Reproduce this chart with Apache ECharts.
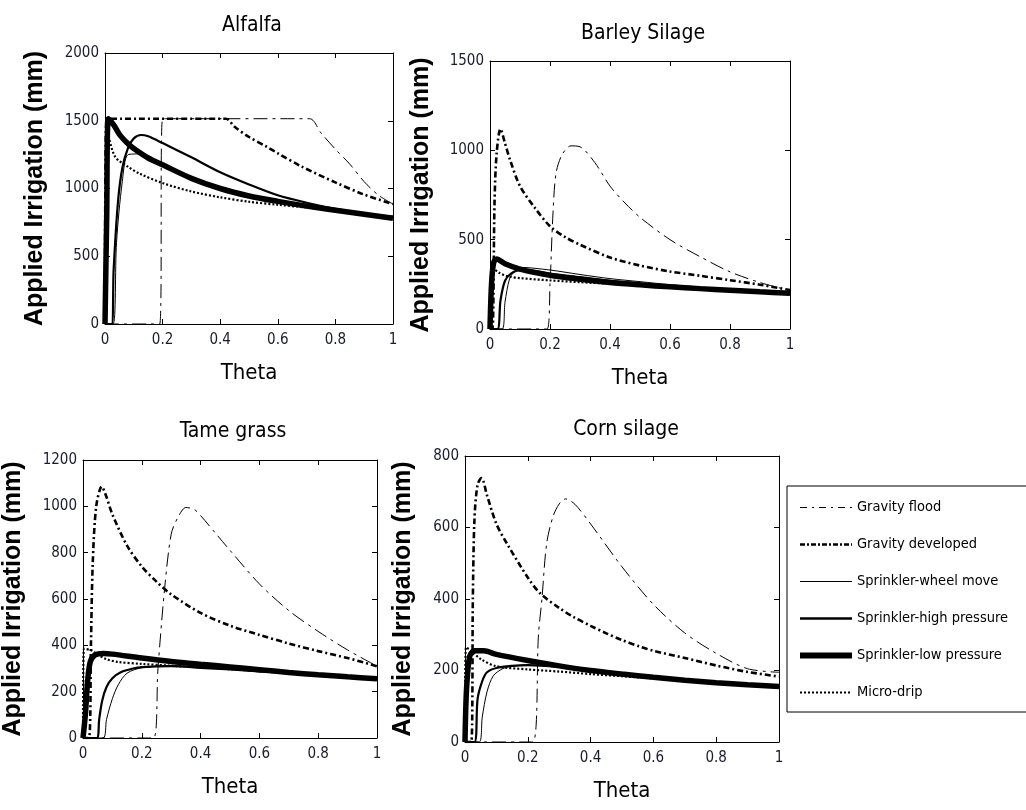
<!DOCTYPE html>
<html>
<head>
<meta charset="utf-8">
<script src="https://cdn.jsdelivr.net/npm/echarts@6/dist/echarts.min.js"></script>
<style>
html,body{margin:0;padding:0;background:#fff;}
#chart{width:1026px;height:810px;}
</style>
</head>
<body>
<div id="chart"></div>
<script>
// ---- data ----
const panelTitles = ['Alfalfa', 'Barley Silage', 'Tame grass', 'Corn silage'];
const seriesNames = ['Gravity flood', 'Gravity developed', 'Sprinkler-wheel move', 'Sprinkler-high pressure', 'Sprinkler-low pressure', 'Micro-drip'];
const xTicks = [0, 0.2, 0.4, 0.6, 0.8, 1];
const yMax = [2000, 1500, 1200, 800];
const yStep = [500, 500, 200, 200];

// Alfalfa
const alfFlood = [[0,0],[0.19,0],[0.2,1515],[0.71,1515],[0.75,1410],[0.8,1290],[0.85,1180],[0.9,1050],[0.95,950],[1,885]];
const alfDev = [[0,0],[0.005,1515],[0.42,1515],[0.45,1455],[0.5,1380],[0.56,1310],[0.6,1260],[0.68,1165],[0.8,1045],[0.9,955],[1,885]];
const alfWheel = [[0,0],[0.028,0],[0.04,600],[0.06,1050],[0.08,1250],[0.12,1255],[0.2,1170],[0.3,1080],[0.4,1005],[0.5,950],[0.6,910],[0.7,875],[0.8,845],[0.9,815],[1,785]];
const alfHigh = [[0,0],[0.023,0],[0.03,400],[0.045,900],[0.06,1150],[0.08,1300],[0.1,1370],[0.125,1395],[0.15,1385],[0.2,1335],[0.3,1230],[0.4,1120],[0.5,1030],[0.6,950],[0.7,895],[0.8,850],[0.9,815],[1,790]];
const alfLow = [[0,0],[0.006,800],[0.012,1515],[0.03,1470],[0.05,1400],[0.08,1330],[0.1,1295],[0.15,1225],[0.2,1175],[0.3,1075],[0.4,1000],[0.5,945],[0.6,905],[0.7,870],[0.8,840],[0.9,810],[1,780]];
const alfDrip = [[0,0],[0.004,700],[0.01,1400],[0.035,1235],[0.08,1160],[0.12,1110],[0.2,1040],[0.3,978],[0.4,935],[0.5,902],[0.6,880],[0.7,860],[0.8,838],[0.9,815],[1,790]];

// Barley Silage
const barFlood = [[0,0],[0.19,0],[0.2,250],[0.21,650],[0.22,870],[0.24,975],[0.27,1025],[0.3,1020],[0.35,930],[0.4,800],[0.45,705],[0.5,625],[0.6,500],[0.7,405],[0.8,320],[0.9,260],[1,215]];
const barDev = [[0,0],[0.008,0],[0.015,700],[0.022,980],[0.035,1120],[0.05,1040],[0.067,946],[0.1,800],[0.15,677],[0.2,575],[0.25,515],[0.3,472],[0.4,400],[0.5,355],[0.6,322],[0.7,298],[0.8,273],[0.9,248],[1,218]];
const barWheel = [[0,0],[0.04,0],[0.05,150],[0.065,280],[0.08,320],[0.1,345],[0.2,330],[0.3,305],[0.4,282],[0.5,265],[0.6,248],[0.7,235],[0.8,222],[0.9,210],[1,200]];
const barHigh = [[0,0],[0.025,0],[0.035,160],[0.05,270],[0.07,310],[0.1,330],[0.15,325],[0.2,310],[0.3,290],[0.4,270],[0.5,255],[0.6,240],[0.7,228],[0.8,218],[0.9,208],[1,198]];
const barLow = [[0,0],[0.005,250],[0.012,370],[0.022,392],[0.05,365],[0.1,335],[0.2,300],[0.3,278],[0.4,260],[0.5,247],[0.6,236],[0.7,226],[0.8,217],[0.9,208],[1,200]];
const barDrip = [[0,0],[0.004,200],[0.01,340],[0.03,315],[0.06,295],[0.1,285],[0.2,272],[0.3,262],[0.4,253],[0.5,245],[0.6,237],[0.7,228],[0.8,220],[0.9,212],[1,205]];

// Tame grass
const tamFlood = [[0,0],[0.24,0],[0.255,300],[0.278,650],[0.3,880],[0.322,950],[0.35,995],[0.38,985],[0.4,960],[0.45,885],[0.5,810],[0.6,665],[0.7,550],[0.8,460],[0.9,380],[1,310]];
const tamDev = [[0,0],[0.02,0],[0.027,400],[0.033,750],[0.045,1000],[0.064,1085],[0.08,1040],[0.1,965],[0.15,830],[0.2,740],[0.25,675],[0.3,620],[0.4,540],[0.5,485],[0.6,445],[0.7,408],[0.8,375],[0.9,345],[1,310]];
const tamWheel = [[0,0],[0.068,0],[0.08,80],[0.1,170],[0.12,230],[0.15,280],[0.2,303],[0.3,312],[0.4,305],[0.5,298],[0.6,290],[0.7,282],[0.8,273],[0.9,265],[1,258]];
const tamHigh = [[0,0],[0.047,0],[0.055,80],[0.065,160],[0.08,220],[0.1,258],[0.13,285],[0.17,300],[0.2,306],[0.3,310],[0.4,303],[0.5,296],[0.6,288],[0.7,280],[0.8,272],[0.9,264],[1,256]];
const tamLow = [[0,0],[0.008,100],[0.016,250],[0.025,330],[0.04,358],[0.07,365],[0.1,362],[0.2,345],[0.3,330],[0.4,318],[0.5,307],[0.6,295],[0.7,283],[0.8,273],[0.9,264],[1,256]];
const tamDrip = [[0,0],[0.003,385],[0.03,378],[0.05,360],[0.08,340],[0.12,328],[0.2,320],[0.3,312],[0.4,305],[0.5,297],[0.6,288],[0.7,280],[0.8,272],[0.9,264],[1,256]];

// Corn silage
const corFlood = [[0,0],[0.216,0],[0.234,300],[0.245,400],[0.26,555],[0.28,630],[0.3,666],[0.32,680],[0.35,665],[0.4,610],[0.5,490],[0.6,385],[0.7,305],[0.8,248],[0.9,205],[1,195]];
const corDev = [[0,0],[0.02,0],[0.025,400],[0.03,620],[0.04,720],[0.053,738],[0.07,690],[0.1,610],[0.133,556],[0.2,460],[0.239,416],[0.3,375],[0.345,350],[0.4,325],[0.45,304],[0.5,285],[0.557,267],[0.6,255],[0.7,235],[0.8,214],[0.9,196],[1,183]];
const corWheel = [[0,0],[0.045,0],[0.055,70],[0.07,140],[0.09,185],[0.12,205],[0.15,212],[0.2,215],[0.3,210],[0.4,200],[0.5,190],[0.6,181],[0.7,173],[0.8,166],[0.9,160],[1,155]];
const corHigh = [[0,0],[0.03,0],[0.04,120],[0.055,170],[0.07,195],[0.1,207],[0.15,213],[0.2,215],[0.3,210],[0.4,200],[0.5,190],[0.6,181],[0.7,173],[0.8,166],[0.9,160],[1,155]];
const corLow = [[0,0],[0.005,150],[0.015,240],[0.03,255],[0.06,255],[0.1,245],[0.2,228],[0.3,213],[0.4,200],[0.5,190],[0.6,181],[0.7,173],[0.8,166],[0.9,160],[1,155]];
const corDrip = [[0,0],[0.003,265],[0.02,255],[0.05,232],[0.1,212],[0.2,203],[0.3,197],[0.4,190],[0.5,184],[0.6,178],[0.7,172],[0.8,166],[0.9,160],[1,155]];

const panelData = [
  [alfFlood, alfDev, alfWheel, alfHigh, alfLow, alfDrip],
  [barFlood, barDev, barWheel, barHigh, barLow, barDrip],
  [tamFlood, tamDev, tamWheel, tamHigh, tamLow, tamDrip],
  [corFlood, corDev, corWheel, corHigh, corLow, corDrip]
];

// ---- layout & style ----
const NARROW = '"DejaVu Sans Condensed", "Liberation Sans Narrow", sans-serif';
const grids = [
  {left: 105, top: 53, width: 288, height: 271},
  {left: 490, top: 61, width: 300, height: 268},
  {left: 81, top: 460, width: 296, height: 278},
  {left: 465, top: 456, width: 314, height: 286}
];
const titlePos = [[247, 10], [638, 18], [228, 416], [621, 414]];
const yNameGap = [57, 56, 57, 49];
const lineStyles = [
  {width: 1, type: [14, 5, 3, 5]},
  {width: 2.6, type: [6, 3, 2, 3]},
  {width: 1, type: 'solid'},
  {width: 2.2, type: 'solid'},
  {width: 5.5, type: 'solid'},
  {width: 2.2, type: [2, 2]}
];
const legendLineStyles = [
  {width: 1.2, type: [7, 5, 2, 5]},
  {width: 2.6, type: [5, 2, 2, 2]},
  {width: 1, type: 'solid'},
  {width: 2.4, type: 'solid'},
  {width: 6, type: 'solid'},
  {width: 2.2, type: [2, 2]}
];

const tickColor = '#1b1b30';
const xAxes = [], yAxes = [], series = [], titles = [];
grids.forEach((g, p) => {
  titles.push({
    text: panelTitles[p], left: titlePos[p][0], top: titlePos[p][1], textAlign: 'center',
    textStyle: {fontFamily: NARROW, fontSize: 21, fontWeight: 'normal', color: '#000'}
  });
  xAxes.push({
    gridIndex: p, type: 'value', min: 0, max: 1, interval: 0.2, position: 'bottom',
    name: 'Theta', nameLocation: 'middle', nameGap: 38,
    nameTextStyle: {fontFamily: NARROW, fontSize: 22, color: '#000'},
    axisLine: {show: true, onZero: false, lineStyle: {color: '#000', width: 1}},
    axisTick: {show: true, inside: true, length: 5, lineStyle: {color: '#000'}},
    axisLabel: {show: true, margin: 9, fontFamily: NARROW, fontSize: 15, color: tickColor,
      formatter: v => String(+v.toFixed(1))},
    splitLine: {show: false}
  });
  xAxes.push({
    gridIndex: p, type: 'value', min: 0, max: 1, interval: 0.2, position: 'top',
    axisLine: {show: true, onZero: false, lineStyle: {color: '#000', width: 1}},
    axisTick: {show: true, inside: true, length: 5, lineStyle: {color: '#000'}},
    axisLabel: {show: false}, splitLine: {show: false}
  });
  yAxes.push({
    gridIndex: p, type: 'value', min: 0, max: yMax[p], interval: yStep[p], position: 'left',
    name: 'Applied Irrigation (mm)', nameLocation: 'middle', nameGap: yNameGap[p],
    nameTextStyle: {fontFamily: '"Liberation Sans", Arial, sans-serif', fontSize: 25, fontWeight: 'bold', color: '#000'},
    axisLine: {show: true, onZero: false, lineStyle: {color: '#000', width: 1}},
    axisTick: {show: true, inside: true, length: 5, lineStyle: {color: '#000'}},
    axisLabel: {show: true, margin: 6, fontFamily: NARROW, fontSize: 15, color: tickColor,
      formatter: v => String(v)},
    splitLine: {show: false}
  });
  yAxes.push({
    gridIndex: p, type: 'value', min: 0, max: yMax[p], interval: yStep[p], position: 'right',
    axisLine: {show: true, onZero: false, lineStyle: {color: '#000', width: 1}},
    axisTick: {show: true, inside: true, length: 5, lineStyle: {color: '#000'}},
    axisLabel: {show: false}, splitLine: {show: false}
  });
  panelData[p].forEach((d, s) => {
    series.push({
      type: 'line', name: seriesNames[s], data: d,
      xAxisIndex: p * 2, yAxisIndex: p * 2,
      showSymbol: false, symbol: 'none', smooth: 0.3,
      clip: true, animation: false,
      lineStyle: Object.assign({color: '#000'}, lineStyles[s]),
      itemStyle: {color: '#000'}
    });
  });
});

const chart = echarts.init(document.getElementById('chart'), null, {renderer: 'canvas'});
chart.setOption({
  backgroundColor: '#fff',
  animation: false,
  title: titles,
  grid: grids,
  xAxis: xAxes,
  yAxis: yAxes,
  legend: {
    data: seriesNames.map((n, i) => ({name: n, lineStyle: Object.assign({color: '#000'}, legendLineStyles[i])})),
    orient: 'vertical', left: 787, top: 486,
    itemWidth: 52, itemHeight: 14, itemGap: 22,
    padding: [14, 26, 12, 10],
    borderColor: '#000', borderWidth: 1,
    itemStyle: {opacity: 0},
    textStyle: {fontFamily: NARROW, fontSize: 14.5, color: '#000'},
    selectedMode: false
  },
  series: series
});
</script>
</body>
</html>
